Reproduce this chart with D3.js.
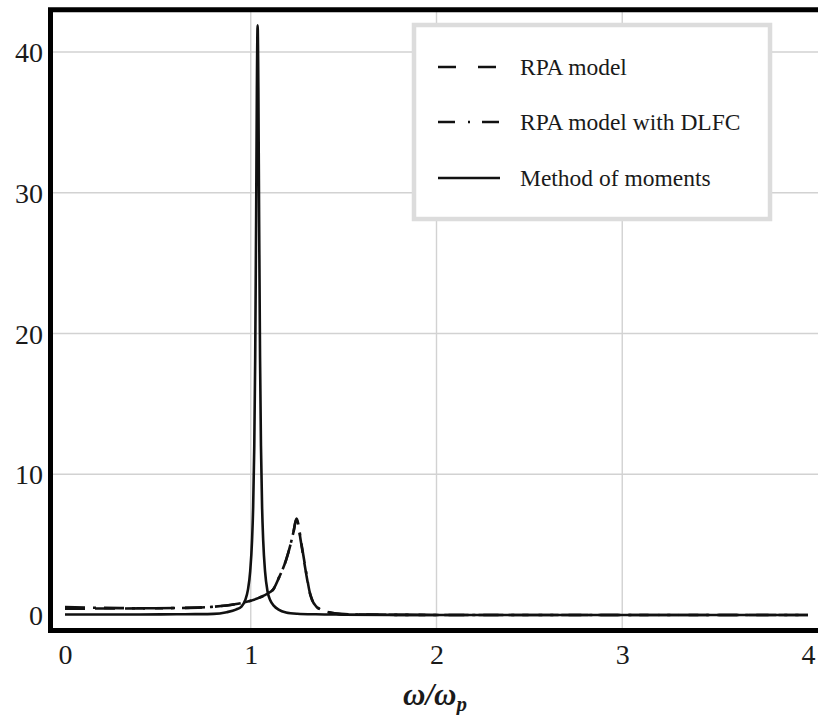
<!DOCTYPE html>
<html>
<head>
<meta charset="utf-8">
<script src="https://cdn.jsdelivr.net/npm/d3@7"></script>
<style>
  html, body { margin: 0; padding: 0; background: #fff; }
  svg { display: block; }
  text { font-family: "Liberation Serif", "Times New Roman", serif; fill: #1a1a1a; }
</style>
</head>
<body>
<svg id="chart" width="818" height="715"></svg>
<script>
// ---- data ----
const xTicks = [0, 1, 2, 3, 4];
const yTicks = [0, 10, 20, 30, 40];
const xGrid = [1, 2, 3];
const yGrid = [10, 20, 30, 40];

const seriesNames = ["RPA model", "RPA model with DLFC", "Method of moments"];

// Method of moments (solid)
const momX = [0, 0.2, 0.4, 0.6, 0.7, 0.8, 0.87, 0.92, 0.95, 0.97, 0.985, 0.997, 1.007, 1.013, 1.019, 1.024, 1.029, 1.033, 1.037, 1.041, 1.045, 1.05, 1.055, 1.061, 1.067, 1.077, 1.09, 1.105, 1.125, 1.15, 1.19, 1.25, 1.35, 1.5, 1.8, 2.2, 3, 4];
const momY = [0.04, 0.04, 0.04, 0.05, 0.06, 0.08, 0.2, 0.38, 0.6, 1.05, 1.8, 3.1, 5.3, 7.7, 12.0, 18.3, 28.2, 37.4, 41.9, 37.4, 28.2, 18.3, 12.0, 7.7, 5.3, 3.1, 1.7, 1.05, 0.65, 0.38, 0.18, 0.09, 0.05, 0.03, 0.01, 0, 0, 0];

// RPA model (dashed)
const rpaX = [0, 0.2, 0.4, 0.62, 0.79, 0.87, 0.96, 1.05, 1.1, 1.12, 1.15, 1.19, 1.21, 1.23, 1.245, 1.255, 1.27, 1.28, 1.3, 1.317, 1.33, 1.353, 1.38, 1.407, 1.46, 1.55, 1.8, 2.2, 3, 4];
const rpaY = [0.45, 0.46, 0.47, 0.5, 0.58, 0.68, 0.88, 1.25, 1.6, 1.8, 2.6, 3.9, 4.8, 5.9, 6.8, 6.4, 5.2, 4.4, 2.8, 1.6, 1.07, 0.6, 0.35, 0.23, 0.1, 0.04, 0.01, 0, 0, 0];

// RPA model with DLFC (dash-dot)
const dlfcX = [0, 0.15, 0.3, 0.45, 0.62, 0.79, 0.87, 0.96, 1.05, 1.1, 1.12, 1.15, 1.19, 1.21, 1.23, 1.247, 1.257, 1.27, 1.28, 1.3, 1.317, 1.33, 1.353, 1.38, 1.407, 1.46, 1.55, 1.8, 2.2, 3, 4];
const dlfcY = [0.56, 0.52, 0.49, 0.48, 0.5, 0.58, 0.68, 0.88, 1.25, 1.6, 1.8, 2.6, 3.9, 4.8, 5.9, 6.85, 6.4, 5.3, 4.5, 2.9, 1.65, 1.1, 0.62, 0.36, 0.23, 0.1, 0.04, 0.01, 0, 0, 0];

// ---- layout ----
const svg = d3.select("#chart");
const W = 818, H = 715;
const frameLeft = 50.5, frameTop = 9.7, frameBottom = 630.5;

const x = d3.scaleLinear().domain([0, 4]).range([65, 808]);
const y = d3.scaleLinear().domain([0, 40]).range([615, 52]);

// gridlines
const grid = svg.append("g").attr("stroke", "#d2d2d2").attr("stroke-width", 1.4);
grid.selectAll("line.v").data(xGrid).join("line")
  .attr("x1", d => x(d)).attr("x2", d => x(d))
  .attr("y1", frameTop).attr("y2", frameBottom);
grid.selectAll("line.h").data(yGrid).join("line")
  .attr("x1", frameLeft).attr("x2", W)
  .attr("y1", d => y(d)).attr("y2", d => y(d));

// clip
svg.append("clipPath").attr("id", "clip").append("rect")
  .attr("x", frameLeft + 2.5).attr("y", frameTop + 2.5)
  .attr("width", W - frameLeft).attr("height", frameBottom - frameTop - 5);

const line = d3.line().x(d => x(d[0])).y(d => y(d[1])).curve(d3.curveMonotoneX);
const zip = (a, b) => a.map((v, i) => [v, b[i]]);

const curves = svg.append("g").attr("clip-path", "url(#clip)")
  .attr("fill", "none").attr("stroke", "#111").attr("stroke-width", 2.6)
  .attr("stroke-linejoin", "round");

curves.append("path").attr("d", line(zip(momX, momY)));
curves.append("path").attr("d", line(zip(rpaX, rpaY))).attr("stroke-dasharray", "20,10");
curves.append("path").attr("d", line(zip(dlfcX, dlfcY))).attr("stroke-dasharray", "20,8,3,8");

// frame (left, top, bottom)
const frame = svg.append("g").attr("stroke", "#000").attr("stroke-width", 5).attr("fill", "none");
frame.append("path").attr("d", `M${W + 5},${frameTop} H${frameLeft} V${frameBottom} H${W + 5}`)
  .attr("stroke-linejoin", "miter");

// axes using d3 axis generators (ticks hidden, labels only)
const xAxis = d3.axisBottom(x).tickValues(xTicks).tickSize(0).tickPadding(0).tickFormat(d3.format("d"));
const gx = svg.append("g").attr("transform", `translate(0,644)`).call(xAxis);
gx.select(".domain").remove();
gx.selectAll("text").attr("font-size", 28).attr("dy", "0.71em")
  .style("font-family", "'Liberation Serif', serif").attr("fill", "#1a1a1a");

const yAxis = d3.axisLeft(y).tickValues(yTicks).tickSize(0).tickPadding(0).tickFormat(d3.format("d"));
const gy = svg.append("g").attr("transform", `translate(43,0)`).call(yAxis);
gy.select(".domain").remove();
gy.selectAll("text").attr("font-size", 28).attr("dy", "0.34em")
  .style("font-family", "'Liberation Serif', serif").attr("fill", "#1a1a1a");

// x-axis title
const title = svg.append("text").attr("x", 435).attr("y", 705).attr("text-anchor", "middle")
  .attr("font-size", 31).attr("font-weight", "bold").attr("font-style", "italic");
title.append("tspan").text("ω/ω");
title.append("tspan").attr("font-size", 21).attr("dy", 6).text("p");

// legend
const lg = svg.append("g");
lg.append("rect").attr("x", 414).attr("y", 25).attr("width", 356).attr("height", 194)
  .attr("fill", "#fff").attr("stroke", "#dcdcdc").attr("stroke-width", 4.5);
const legendRows = [
  { name: seriesNames[0], dash: "18,22", y: 67 },
  { name: seriesNames[1], dash: "17,13,2,12", y: 122 },
  { name: seriesNames[2], dash: null, y: 178 }
];
legendRows.forEach(r => {
  lg.append("line").attr("x1", 438).attr("x2", 500).attr("y1", r.y).attr("y2", r.y)
    .attr("stroke", "#111").attr("stroke-width", 2.4)
    .attr("stroke-dasharray", r.dash);
  lg.append("text").attr("x", 520).attr("y", r.y + 8).attr("font-size", 23.5).text(r.name);
});
</script>
</body>
</html>
